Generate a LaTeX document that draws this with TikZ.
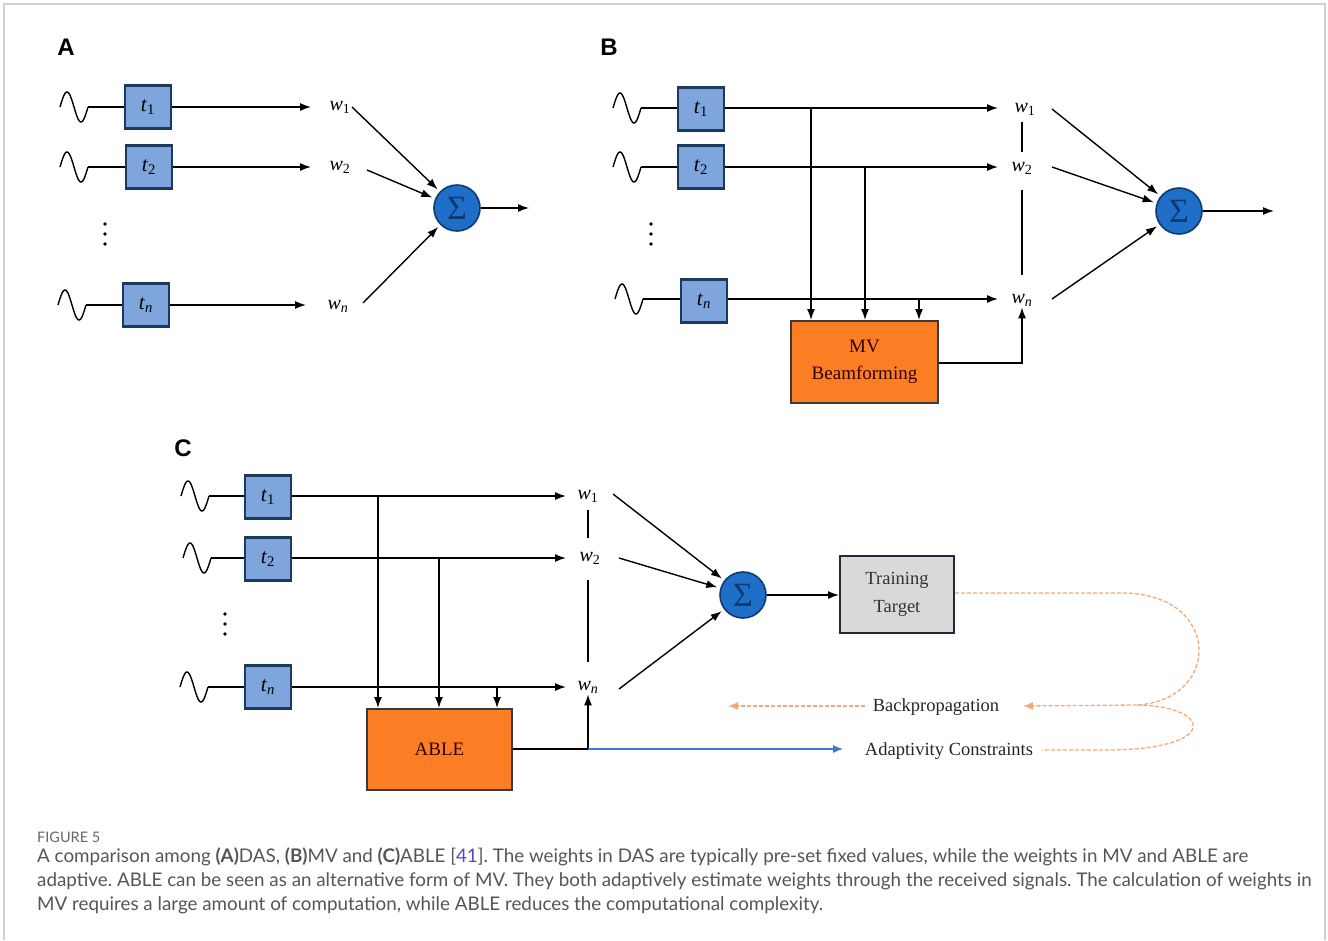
\documentclass[tikz,border=0pt]{standalone}
\usepackage{fontspec}
\setmainfont{Liberation Serif}
\newfontfamily\capfont{Lato}
\newfontfamily\panelfont{Liberation Sans}
\usetikzlibrary{arrows.meta}
\frenchspacing

\definecolor{delayfill}{HTML}{7EA6DC}
\definecolor{delayedge}{HTML}{1B3A5E}
\definecolor{sumfill}{HTML}{1F6FC8}
\definecolor{sumedge}{HTML}{0E3A72}
\definecolor{procfill}{HTML}{FB7E24}
\definecolor{procedge}{HTML}{3A3A3A}
\definecolor{tgtfill}{HTML}{D9D9D9}
\definecolor{tgtedge}{HTML}{1E2B3A}
\definecolor{loopcol}{HTML}{F2A97A}
\definecolor{constcol}{HTML}{3A7BC8}
\definecolor{captext}{HTML}{555555}
\definecolor{linkc}{HTML}{4B4BC8}
\definecolor{framec}{HTML}{D2D2D2}

% received-signal trace: one sine period, 28 units wide
\newcommand\sigwave[2]{%
  \draw[line width=1.4pt, domain=0:28, samples=50, smooth, variable=\xx]
    plot ({#1+\xx},{#2-15*sin(360*\xx/28)});}
% vertical ellipsis
\newcommand\dotcol[2]{%
  \foreach \k in {-10,0,10} \fill (#1,#2+\k) circle (1.8pt);}
% italic symbol with subscript
\newcommand\sym[2]{\textit{#1}\textsubscript{#2}}
% two centred lines, lowered a little inside their box
\newcommand\twolines[3]{\raisebox{-3pt}{\begin{tabular}{@{}c@{}}#1\\[#3]#2\end{tabular}}}

\tikzset{
  delaybox/.style={draw=delayedge, fill=delayfill, line width=2.2pt,
    minimum width=46pt, minimum height=43pt, inner sep=0pt,
    font=\fontsize{21}{23}\selectfont},
  wlab/.style={font=\fontsize{20}{22}\selectfont, inner sep=1pt},
  sumnode/.style={circle, draw=sumedge, fill=sumfill, line width=1.6pt,
    minimum size=46pt, inner sep=0pt, font=\fontsize{34}{36}\selectfont,
    text=sumedge},
  procbox/.style={draw=procedge, fill=procfill, line width=2pt,
    inner sep=0pt, align=center, text=black!80!red,
    font=\fontsize{19}{22}\selectfont},
  tgtbox/.style={draw=tgtedge, fill=tgtfill, line width=2pt,
    inner sep=0pt, align=center, text=black!80,
    font=\fontsize{18.5}{21}\selectfont},
  sertext/.style={font=\fontsize{18.5}{20}\selectfont, inner sep=0pt, text=black!85},
  ln/.style={line width=1.4pt},
  arr/.style={line width=1.4pt, -{Latex[length=11pt,width=8pt]}},
  loopline/.style={draw=loopcol, line width=1.3pt, dash pattern=on 4pt off 2pt},
  looparr/.style={loopline, -{Latex[length=10pt,width=8pt]}},
  panel/.style={font=\panelfont\bfseries\fontsize{24}{26}\selectfont, inner sep=0pt},
  captxt/.style={anchor=west, inner sep=0pt, text=captext,
    font=\capfont\fontsize{18.8}{20}\selectfont},
}

\begin{document}
\begin{tikzpicture}[x=1pt, y=-1pt]
\useasboundingbox (0,0) rectangle (1328,940);
% outer frame
\draw[framec, line width=1.5pt] (4,940) -- (4,4) -- (1325,4) -- (1325,940);

% ---------------- A: delay and sum ----------------
\node[panel] (labA) at (66,47) {A};
\node[delaybox] (a1) at (148,107) {\sym{t}{1}};
\node[delaybox] (a2) at (149,167) {\sym{t}{2}};
\node[delaybox] (an) at (146,305) {\sym{t}{\textit{n}}};
\sigwave{60}{107}\sigwave{60}{167}\sigwave{58}{305}
\draw[line width=2.4pt] (88,107) -- (a1.west);
\draw[line width=2.4pt] (88,167) -- (a2.west);
\draw[ln] (86,305) -- (an.west);
\dotcol{105}{234}
\node[wlab] (aw1) at (340,107) {\sym{w}{1}};
\node[wlab] (aw2) at (340,167) {\sym{w}{2}};
\node[wlab] (awn) at (338,306) {\sym{w}{\textit{n}}};
\draw[arr] (a1.east) -- (a1.east -| 311,0);
\draw[arr] (a2.east) -- (a2.east -| 311,0);
\draw[arr] (an.east) -- (an.east -| 306,0);
\node[sumnode] (as) at (457,208) {Σ};
\coordinate (as1) at (352,107);
\coordinate (as2) at (367,170);
\coordinate (asn) at (363,303);
\draw[arr, shorten >=3pt] (as1) -- (as);
\draw[arr, shorten >=3pt] (as2) -- (as);
\draw[arr, shorten >=3pt] (asn) -- (as);
\coordinate (aout) at (529,208);
\draw[arr] (as.east) -- (aout);

% ---------------- B: minimum variance ----------------
\node[panel] (labB) at (609,47) {B};
\node[delaybox] (b1) at (701,109) {\sym{t}{1}};
\node[delaybox] (b2) at (701,167) {\sym{t}{2}};
\node[delaybox] (bn) at (704,301) {\sym{t}{\textit{n}}};
\sigwave{613}{108}\sigwave{613}{167}\sigwave{615}{299}
\draw[line width=2.4pt] (641,108) -- (b1.west |- 0,108);
\draw[line width=2.4pt] (641,167) -- (b2.west);
\draw[line width=2.4pt] (643,299) -- (bn.west |- 0,299);
\dotcol{651}{234}
\node[wlab] (bw1) at (1025,109) {\sym{w}{1}};
\node[wlab] (bw2) at (1022,168) {\sym{w}{2}};
\node[wlab] (bwn) at (1022,300) {\sym{w}{\textit{n}}};
\draw[arr] (b1.east |- 0,108) -- (998,108);
\draw[arr] (b2.east) -- (998,167);
\draw[arr] (bn.east |- 0,299) -- (998,299);
\node[procbox, minimum width=147pt, minimum height=82pt] (mv) at (864.5,362)
  {\twolines{MV}{Beamforming}{5pt}};
\draw[arr] (811,108) -- (mv.north -| 811,0);
\draw[arr] (865,167) -- (mv.north -| 865,0);
\draw[arr] (919,299) -- (mv.north -| 919,0);
\draw[arr] (mv.east |- 0,363) -- (1022,363) -- (bwn.south);
\draw[line width=2.2pt] (1022,122) -- (1022,152);
\draw[ln] (1022,190) -- (1022,275);
\node[sumnode] (bs) at (1179,211) {Σ};
\coordinate (bs1) at (1052,109);
\coordinate (bs2) at (1052,167);
\coordinate (bsn) at (1052,299);
\draw[arr, shorten >=3pt] (bs1) -- (bs);
\draw[arr, shorten >=3pt] (bs2) -- (bs);
\draw[arr, shorten >=3pt] (bsn) -- (bs);
\coordinate (bout) at (1274,211);
\draw[arr] (bs.east) -- (bout);

% ---------------- C: ABLE ----------------
\node[panel] (labC) at (183,448) {C};
\node[delaybox] (c1) at (268,497) {\sym{t}{1}};
\node[delaybox] (c2) at (268,559) {\sym{t}{2}};
\node[delaybox] (cn) at (268,687) {\sym{t}{\textit{n}}};
\sigwave{181}{496}\sigwave{183}{558}\sigwave{180}{687}
\draw[line width=2.4pt] (209,496) -- (c1.west |- 0,496);
\draw[ln] (211,558) -- (c2.west |- 0,558);
\draw[ln] (208,687) -- (cn.west);
\dotcol{225}{624}
\node[wlab] (cw1) at (588,496) {\sym{w}{1}};
\node[wlab] (cw2) at (590,558) {\sym{w}{2}};
\node[wlab] (cwn) at (588,687) {\sym{w}{\textit{n}}};
\draw[arr] (c1.east |- 0,496) -- (566,496);
\draw[arr] (c2.east |- 0,558) -- (566,558);
\draw[arr] (cn.east) -- (566,687);
\node[procbox, minimum width=145pt, minimum height=81pt] (able) at (439.5,749.5)
  {ABLE};
\draw[arr] (378,496) -- (able.north -| 378,0);
\draw[arr] (439,558) -- (able.north -| 439,0);
\draw[arr] (497,687) -- (able.north -| 497,0);
\draw[arr] (able.east |- 0,749) -- (588,749) -- (cwn.south);
\draw[line width=2pt] (588,510) -- (588,538);
\draw[ln] (588,580) -- (588,662);
\node[sumnode] (cs) at (743,595) {Σ};
\coordinate (cs1) at (613,494);
\coordinate (cs2) at (619,558);
\coordinate (csn) at (619,689);
\draw[arr, shorten >=3pt] (cs1) -- (cs);
\draw[arr, shorten >=3pt] (cs2) -- (cs);
\draw[arr, shorten >=3pt] (csn) -- (cs);
\node[tgtbox, minimum width=114pt, minimum height=77pt] (tt) at (897,594.5)
  {\twolines{Training}{Target}{7pt}};
\draw[arr] (cs.east) -- (tt.west |- cs.east);
\node[sertext] (bp) at (936,707) {Backpropagation};
\node[sertext] (ac) at (949,751) {Adaptivity Constraints};
\coordinate (cross) at (1137,705);
\draw[constcol, line width=1.1pt, -{Latex[length=10pt,width=8pt]}]
  (588,749) -- (843,749);
\draw[looparr] (tt.east |- 0,593) -- (1122,593)
  .. controls (1222,593) and (1222,700) .. (cross) -- (1023,706);
\draw[looparr, shorten <=8pt] (bp.west |- 0,706) -- (728,706);
\draw[loopline] (cross) .. controls (1212,706) and (1222,750) ..
  (1105,750) -- ([xshift=9pt]ac.east |- 0,750);

% ---------------- caption ----------------
\node[captxt, font=\capfont\fontsize{14.5}{16}\selectfont, text=black!60] (fig) at (37,837) {FIGURE 5};
\node[captxt] (cap1) at (37,857) {A comparison among \textbf{(A)}DAS, \textbf{(B)}MV and \textbf{(C)}ABLE [\textcolor{linkc}{41}]. The weights in DAS are typically pre-set fixed values, while the weights in MV and ABLE are};
\node[captxt] (cap2) at (37,881) {adaptive. ABLE can be seen as an alternative form of MV. They both adaptively estimate weights through the received signals. The calculation of weights in};
\node[captxt] (cap3) at (37,905) {MV requires a large amount of computation, while ABLE reduces the computational complexity.};
\end{tikzpicture}
\end{document}
